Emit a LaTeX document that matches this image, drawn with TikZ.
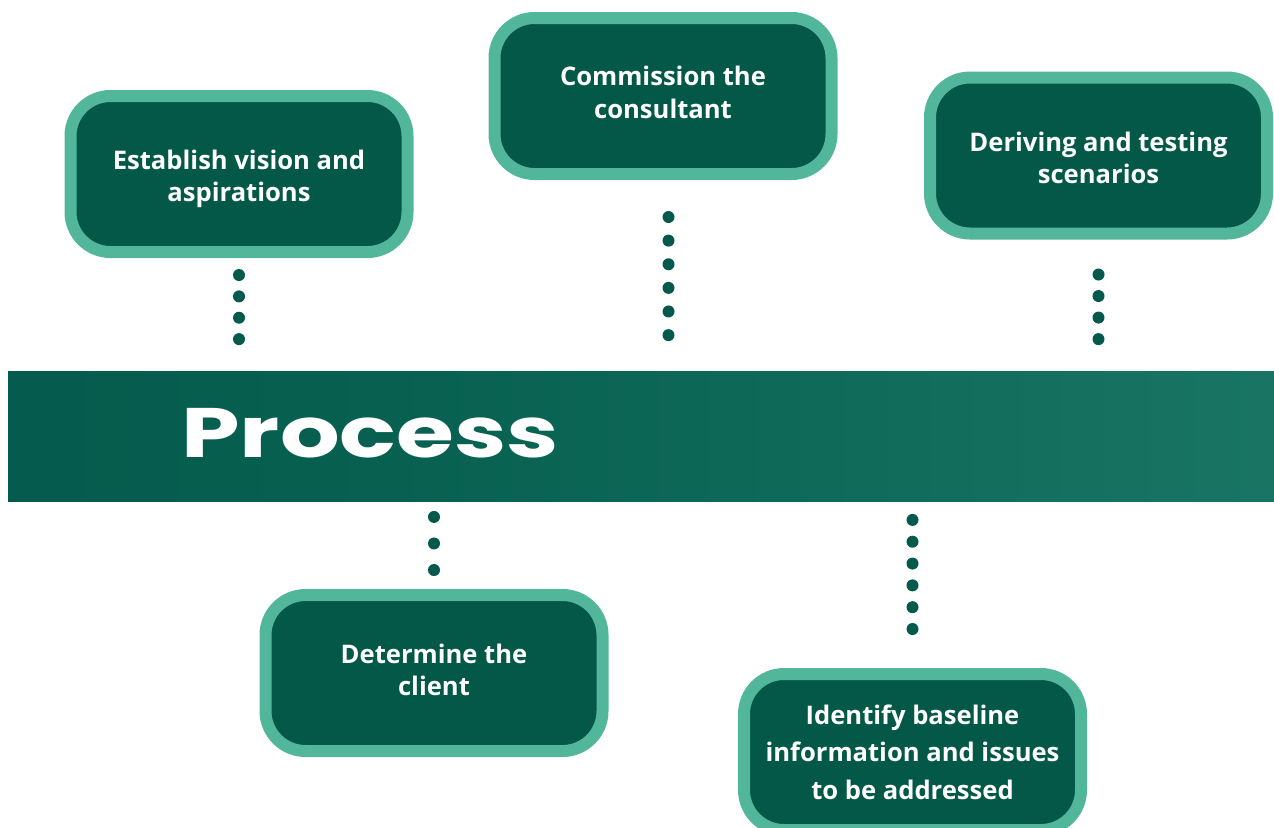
\documentclass[tikz,border=0pt]{standalone}
\usepackage{fontspec}
\setmainfont{Open Sans}
\newfontfamily\procfont[FakeStretch=1.34]{Poppins}
\usetikzlibrary{calc}

\definecolor{edgec}{HTML}{52B79A}
\definecolor{boxc}{HTML}{045848}
\definecolor{dotc}{HTML}{03594B}
\definecolor{bandA}{HTML}{02544A}
\definecolor{bandB}{HTML}{076050}
\definecolor{bandC}{HTML}{268371}
\pgfdeclarehorizontalshading{bandshade}{100bp}{color(0bp)=(bandA); color(40bp)=(bandB); color(100bp)=(bandC)}

\begin{document}
\begin{tikzpicture}[x=0.5pt, y=-0.5pt,
    step box/.style={draw=edgec, fill=boxc, line width=6pt, rounded corners=20pt,
        minimum width=168.5pt, minimum height=78pt, inner sep=0pt},
    step text/.style={text=white, align=center, inner sep=0pt,
        font=\bfseries\fontsize{12.8}{16.3}\selectfont},
    band/.style={shading=bandshade, minimum width=633pt, minimum height=65pt, inner sep=0pt},
    dot/.style={fill=dotc}]

    \clip (0,0) rectangle (1274,827);

    % the banner across the middle
    \node[band] (band) at (641,436.5) {};
    \node[anchor=base west, text=white, inner sep=0pt, font=\procfont\bfseries\fontsize{35}{40}\selectfont]
        (proc) at (181,457) {Process};

    % steps above the banner
    \node[step box, label={[step text, yshift=-2.5pt]center:Establish vision and\\aspirations}]
        (est) at (239,174) {};
    \node[step box, label={[step text, yshift=1.7pt]center:Commission the\\consultant}]
        (com) at (663,96) {};
    \node[step box, label={[step text, yshift=-1.2pt]center:Deriving and testing\\scenarios}]
        (der) at (1098.5,155.5) {};

    % steps below the banner
    \node[step box, label={[step text, yshift=1.5pt]center:Determine the\\client}]
        (det) at (434,673) {};
    \node[step box, label={[step text, font=\bfseries\fontsize{12.8}{18.7}\selectfont]center:Identify baseline\\information and issues\\to be addressed}]
        (idf) at (912.5,752) {};

    % ends of the dotted links
    \coordinate (e1) at ($(est.south)+(0,17)$);
    \coordinate (e2) at ($(est.south |- band.north)+(0,-32)$);
    \coordinate (c1) at ($(com.south)+(5.5,37)$);
    \coordinate (c2) at ($(c1 |- band.north)+(0,-36)$);
    \coordinate (d1) at ($(der.south)+(0,35)$);
    \coordinate (d2) at ($(der.south |- band.north)+(0,-32)$);
    \coordinate (t1) at ($(det.north |- band.south)+(0,15)$);
    \coordinate (t2) at ($(det.north)+(0,-19)$);
    \coordinate (i1) at ($(idf.north |- band.south)+(0,18)$);
    \coordinate (i2) at ($(idf.north)+(0,-39)$);

    % dotted links
    \foreach \s/\e/\n in {e1/e2/3, c1/c2/5, d1/d2/3, t1/t2/2, i1/i2/5}
        \foreach \i in {0,...,\n}
            \fill[dot] ($(\s)!\i/\n!(\e)$) circle (3pt);
\end{tikzpicture}
\end{document}
